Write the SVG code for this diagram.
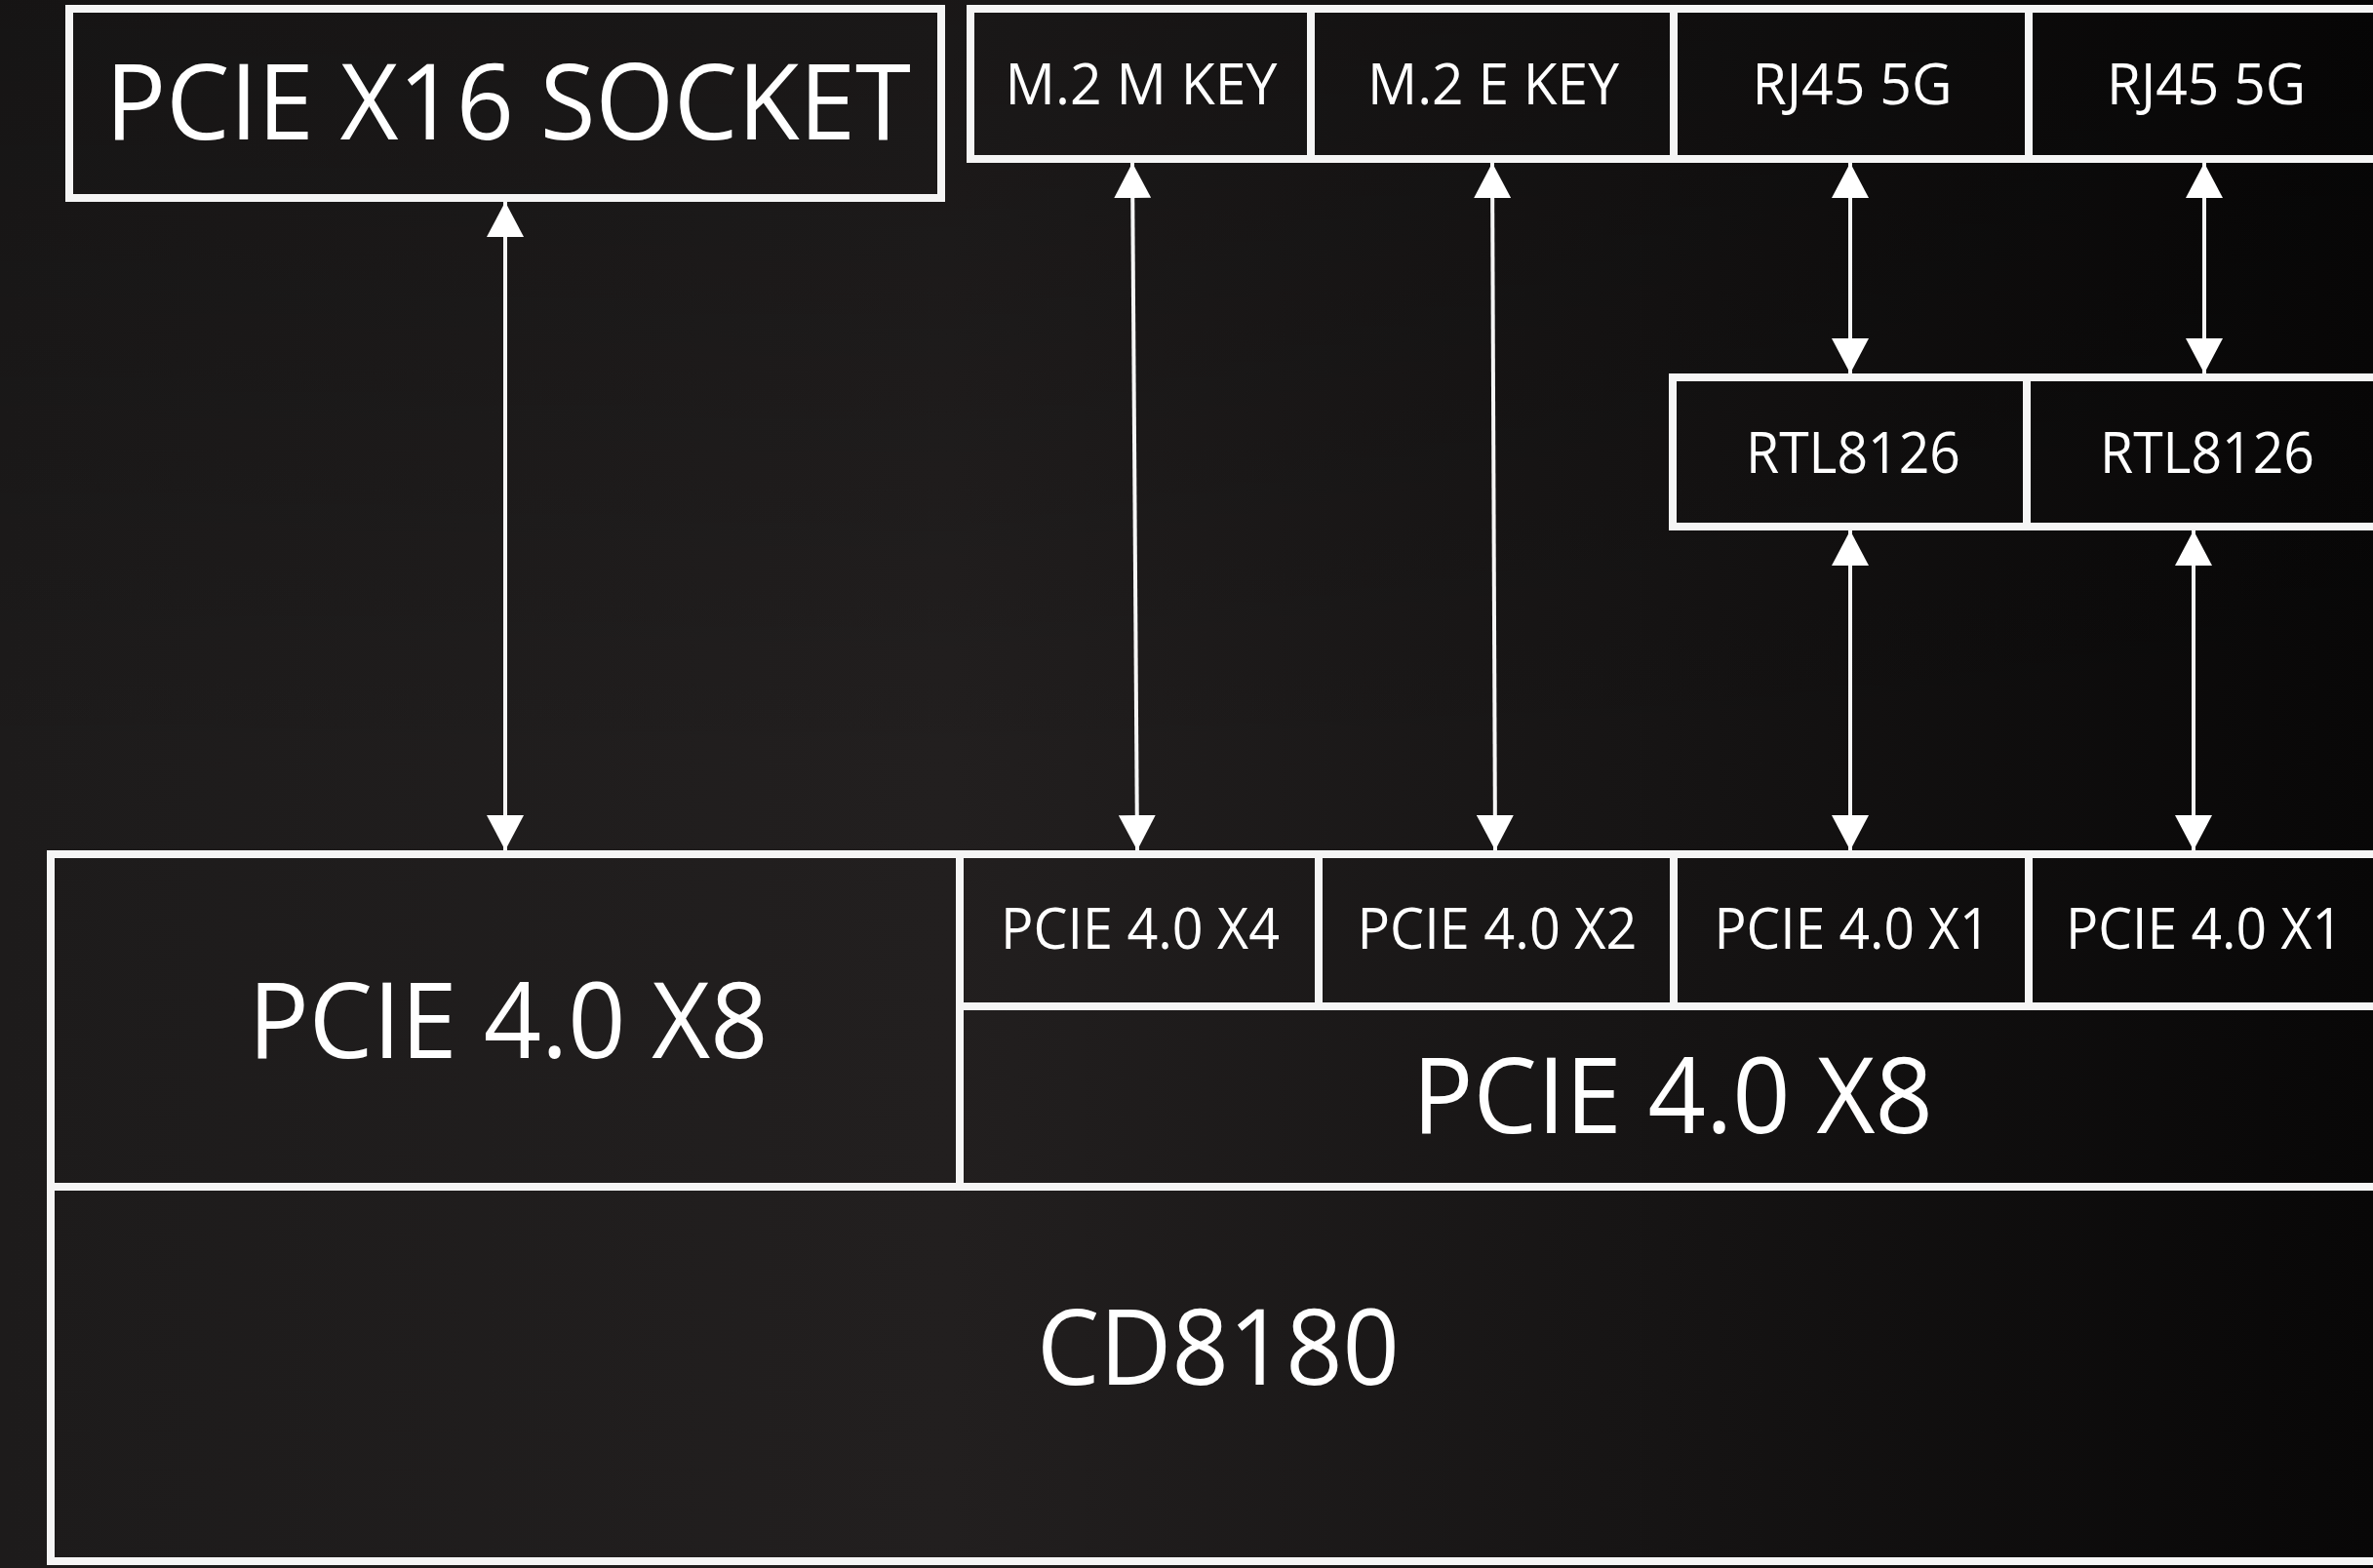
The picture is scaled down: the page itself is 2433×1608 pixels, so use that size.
<svg xmlns="http://www.w3.org/2000/svg" width="2433" height="1608" viewBox="0 0 2433 1608">
  <defs>
    <linearGradient id="bg" x1="0" y1="0" x2="1" y2="0">
      <stop offset="0" stop-color="#1d1b1b"/>
      <stop offset="0.4" stop-color="#221f1f"/>
      <stop offset="0.7" stop-color="#161414"/>
      <stop offset="1" stop-color="#080707"/>
    </linearGradient>
    <linearGradient id="shade" x1="0" y1="0" x2="0" y2="1">
      <stop offset="0" stop-color="#000" stop-opacity="0.25"/>
      <stop offset="0.5" stop-color="#000" stop-opacity="0"/>
      <stop offset="1" stop-color="#000" stop-opacity="0"/>
    </linearGradient>
    <marker id="ah" viewBox="0 0 36 38" markerWidth="36" markerHeight="38" refX="36" refY="19" orient="auto-start-reverse" markerUnits="userSpaceOnUse">
      <path d="M0,0 L36,19 L0,38 Z" fill="#ffffff"/>
    </marker>
    <style>
      .box { fill: none; stroke: #f5f5f5; stroke-width: 8; }
      .div { stroke: #f5f5f5; stroke-width: 8; fill: none; }
      .lbl { fill: #ffffff; font-family: "Open Sans", "Noto Sans", "Liberation Sans", sans-serif; text-anchor: middle; }
      .xl { font-size: 108px; }
      .sm { font-size: 58px; }
      .conn { stroke: #f5f5f5; stroke-width: 4; fill: none; marker-start: url(#ah); marker-end: url(#ah); }
    </style>
  </defs>

  <rect x="0" y="0" width="2433" height="1608" fill="url(#bg)"/>
  <rect x="0" y="0" width="2433" height="1608" fill="url(#shade)"/>

  <g id="pcie-x16-socket">
    <rect class="box" x="71" y="9" width="894" height="194"/>
    <text class="lbl xl" x="521" y="143" textLength="826" lengthAdjust="spacingAndGlyphs">PCIE X16 SOCKET</text>
  </g>

  <g id="top-row">
    <rect class="box" x="995" y="9" width="1460" height="154"/>
    <line class="div" x1="1344" y1="9" x2="1344" y2="163"/>
    <line class="div" x1="1716" y1="9" x2="1716" y2="163"/>
    <line class="div" x1="2080" y1="9" x2="2080" y2="163"/>
  </g>
  <g id="m2-m-key">
    <text class="lbl sm" x="1170" y="107" textLength="279" lengthAdjust="spacingAndGlyphs">M.2 M KEY</text>
  </g>
  <g id="m2-e-key">
    <text class="lbl sm" x="1531" y="107" textLength="258" lengthAdjust="spacingAndGlyphs">M.2 E KEY</text>
  </g>
  <g id="rj45-1">
    <text class="lbl sm" x="1899" y="107" textLength="205" lengthAdjust="spacingAndGlyphs">RJ45 5G</text>
  </g>
  <g id="rj45-2">
    <text class="lbl sm" x="2262" y="107" textLength="204" lengthAdjust="spacingAndGlyphs">RJ45 5G</text>
  </g>

  <g id="rtl-row">
    <rect class="box" x="1715" y="387" width="740" height="153"/>
    <line class="div" x1="2078" y1="387" x2="2078" y2="540"/>
  </g>
  <g id="rtl8126-1">
    <text class="lbl sm" x="1900" y="485" textLength="220" lengthAdjust="spacingAndGlyphs">RTL8126</text>
  </g>
  <g id="rtl8126-2">
    <text class="lbl sm" x="2263" y="485" textLength="220" lengthAdjust="spacingAndGlyphs">RTL8126</text>
  </g>

  <g id="cd8180">
    <rect class="box" x="52" y="876" width="2400" height="725"/>
    <line class="div" x1="52" y1="1217" x2="2452" y2="1217"/>
    <text class="lbl xl" x="1249" y="1420" textLength="372" lengthAdjust="spacingAndGlyphs">CD8180</text>
  </g>
  <g id="pcie-x8-left">
    <line class="div" x1="984" y1="876" x2="984" y2="1217"/>
    <text class="lbl xl" x="521" y="1085" textLength="533" lengthAdjust="spacingAndGlyphs">PCIE 4.0 X8</text>
  </g>
  <g id="pcie-x8-right">
    <line class="div" x1="984" y1="1032" x2="2452" y2="1032"/>
    <text class="lbl xl" x="1715" y="1162" textLength="534" lengthAdjust="spacingAndGlyphs">PCIE 4.0 X8</text>
  </g>
  <g id="pcie-x4">
    <line class="div" x1="1352" y1="876" x2="1352" y2="1032"/>
    <text class="lbl sm" x="1169" y="973" textLength="286" lengthAdjust="spacingAndGlyphs">PCIE 4.0 X4</text>
  </g>
  <g id="pcie-x2">
    <line class="div" x1="1716" y1="876" x2="1716" y2="1032"/>
    <text class="lbl sm" x="1535" y="973" textLength="287" lengthAdjust="spacingAndGlyphs">PCIE 4.0 X2</text>
  </g>
  <g id="pcie-x1-1">
    <line class="div" x1="2080" y1="876" x2="2080" y2="1032"/>
    <text class="lbl sm" x="1899" y="973" textLength="283" lengthAdjust="spacingAndGlyphs">PCIE 4.0 X1</text>
  </g>
  <g id="pcie-x1-2">
    <text class="lbl sm" x="2260" y="973" textLength="284" lengthAdjust="spacingAndGlyphs">PCIE 4.0 X1</text>
  </g>

  <g id="connectors">
    <line class="conn" x1="518" y1="207" x2="518" y2="872"/>
    <line class="conn" x1="1161" y1="167" x2="1166" y2="872"/>
    <line class="conn" x1="1530" y1="167" x2="1533" y2="872"/>
    <line class="conn" x1="1897" y1="167" x2="1897" y2="383"/>
    <line class="conn" x1="2260" y1="167" x2="2260" y2="383"/>
    <line class="conn" x1="1897" y1="544" x2="1897" y2="872"/>
    <line class="conn" x1="2249" y1="544" x2="2249" y2="872"/>
  </g>
</svg>
